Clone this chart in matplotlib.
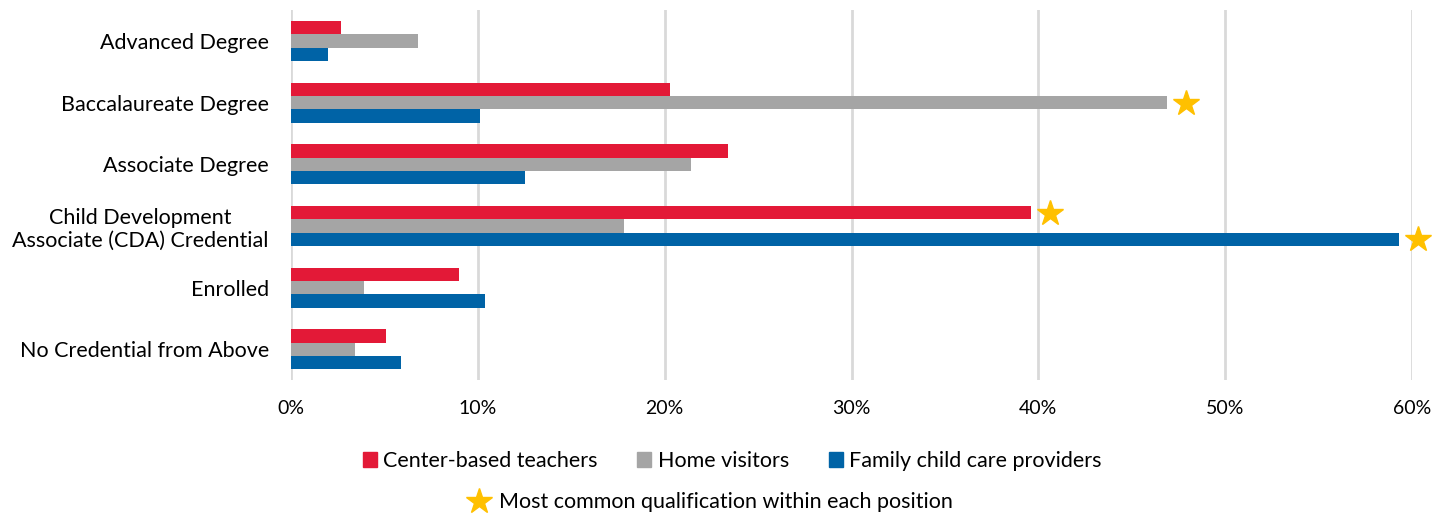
import matplotlib.pyplot as plt
import numpy as np
from matplotlib.patches import Patch
from matplotlib.lines import Line2D

plt.rcParams['font.family'] = ['Lato', 'DejaVu Sans']

categories = ['Advanced Degree', 'Baccalaureate Degree', 'Associate Degree',
              'Child Development\nAssociate (CDA) Credential', 'Enrolled',
              'No Credential from Above']
center_based = [2.7, 20.3, 23.4, 39.6, 9.0, 5.1]
home_visitors = [6.8, 46.9, 21.4, 17.8, 3.9, 3.4]
family_care = [2.0, 10.1, 12.5, 59.3, 10.4, 5.9]
series_names = ['Center-based teachers', 'Home visitors', 'Family child care providers']
colors = ['#E31937', '#A5A5A5', '#0063A6']
star_color = '#FFC000'

fig = plt.figure(figsize=(14.5, 5.15), dpi=100)
ax = fig.add_axes([0.2007, 0.262, 0.7731, 0.7184])

y = np.arange(len(categories))
h = 0.216
all_series = [center_based, home_visitors, family_care]
for i, vals in enumerate(all_series):
    ax.barh(y + (i - 1) * h, vals, height=h, color=colors[i], zorder=3)

# star on the largest value of each position
for i, vals in enumerate(all_series):
    k = int(np.argmax(vals))
    ax.plot(vals[k] + 1.0, y[k] + (i - 1) * h, marker='*', markersize=19,
            color=star_color, linestyle='none', clip_on=False, zorder=4)

ax.set_xlim(0, 60)
ax.set_ylim(len(categories) - 0.5, -0.5)
ax.set_xticks(range(0, 61, 10))
ax.set_xticklabels([f'{v}%' for v in range(0, 61, 10)], fontsize=14)
ax.set_yticks(y)
ax.set_yticklabels(categories, multialignment='center', fontsize=15.5)
ax.tick_params(length=0, colors='black')
ax.tick_params(axis='x', pad=14)
ax.tick_params(axis='y', pad=16)
ax.grid(axis='x', color='#D9D9D9', linewidth=2, zorder=0)
for s in ax.spines.values():
    s.set_visible(False)

handles = [Patch(color=c, label=n) for c, n in zip(colors, series_names)]
fig.legend(handles=handles, loc='center', bbox_to_anchor=(0.505, 0.105),
           ncol=3, frameon=False, fontsize=15.5, handlelength=0.65,
           handleheight=0.65, handletextpad=0.3, columnspacing=1.85)
star_handle = Line2D([], [], marker='*', markersize=19, color=star_color,
                     linestyle='none', label='Most common qualification within each position')
fig.legend(handles=[star_handle], loc='center', bbox_to_anchor=(0.49, 0.025),
           frameon=False, fontsize=15.5, handlelength=1.0, handletextpad=0.4)

fig.savefig('out.png', dpi=100)
